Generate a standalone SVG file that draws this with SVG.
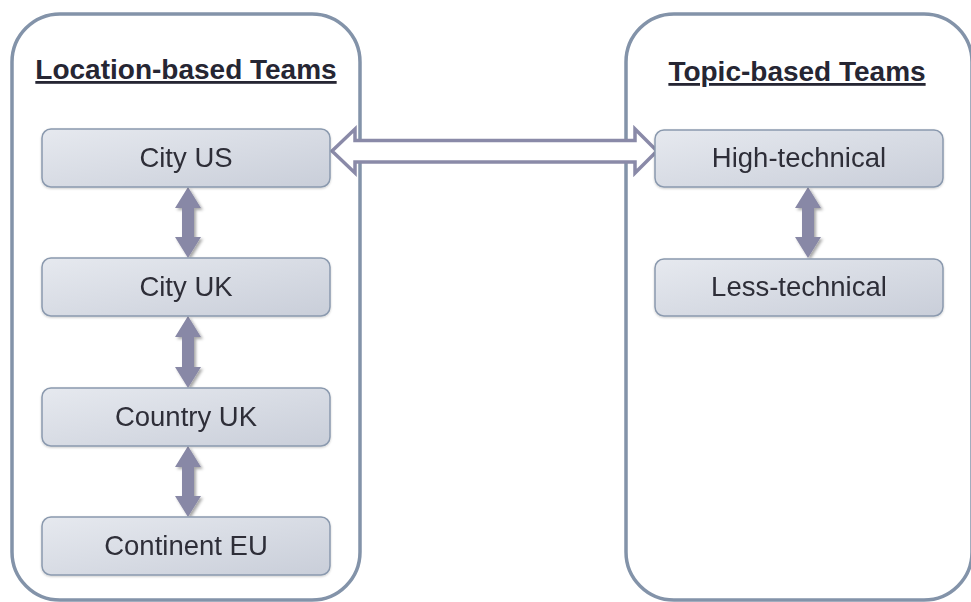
<svg xmlns="http://www.w3.org/2000/svg" width="971" height="602" viewBox="0 0 971 602">
<defs>
<linearGradient id="ng" x1="0" y1="0" x2="1" y2="1">
<stop offset="0" stop-color="#e6e9ef"/>
<stop offset="1" stop-color="#c9ced9"/>
</linearGradient>
<filter id="sh" x="-50%" y="-20%" width="200%" height="140%">
<feDropShadow dx="2" dy="2" stdDeviation="1.5" flood-color="#000" flood-opacity="0.35"/>
</filter>
<filter id="nsh" x="-5%" y="-10%" width="110%" height="130%">
<feDropShadow dx="0" dy="1" stdDeviation="1" flood-color="#000" flood-opacity="0.2"/>
</filter>
</defs>
<style>
.cont{fill:#fff;stroke:#8393a9;stroke-width:3.5}
.node{fill:url(#ng);stroke:#8a99ae;stroke-width:1.5}
.lbl{font-family:"Liberation Sans",Arial,sans-serif;font-size:27.5px;fill:#2e2e38;text-anchor:middle}
.ttl{font-family:"Liberation Sans",Arial,sans-serif;font-size:28px;font-weight:bold;fill:#262633;text-anchor:middle;text-decoration:underline}
.va{fill:#8888a6}
.ha{fill:#fff;stroke:#8a8aa8;stroke-width:3.5;stroke-linejoin:miter}
</style>
<g id="location-container">
<rect class="cont" x="12" y="14" width="348" height="586" rx="48"/>
<text class="ttl" x="186" y="79">Location-based Teams</text>
</g>
<g id="topic-container">
<rect class="cont" x="626" y="14" width="346" height="586" rx="48"/>
<text class="ttl" x="797" y="81">Topic-based Teams</text>
</g>
<g id="connectors">
<path class="ha" d="M332,151 L355,129 L355,140.5 L635,140.5 L635,129 L657,151 L635,173 L635,162 L355,162 L355,173 Z"/>
<g filter="url(#sh)">
<path class="va" d="M188,187 L201,208 L194,208 L194,237 L201,237 L188,258 L175,237 L182,237 L182,208 L175,208 Z"/>
<path class="va" d="M188,316 L201,337 L194,337 L194,367 L201,367 L188,388 L175,367 L182,367 L182,337 L175,337 Z"/>
<path class="va" d="M188,446 L201,467 L194,467 L194,496 L201,496 L188,517 L175,496 L182,496 L182,467 L175,467 Z"/>
<path class="va" d="M808,187 L821,208 L814,208 L814,237 L821,237 L808,258 L795,237 L802,237 L802,208 L795,208 Z"/>
</g>
</g>
<g id="city-us" filter="url(#nsh)">
<rect class="node" x="42" y="129" width="288" height="58" rx="9"/>
<text class="lbl" x="186" y="167">City US</text>
</g>
<g id="city-uk" filter="url(#nsh)">
<rect class="node" x="42" y="258" width="288" height="58" rx="9"/>
<text class="lbl" x="186" y="296">City UK</text>
</g>
<g id="country-uk" filter="url(#nsh)">
<rect class="node" x="42" y="388" width="288" height="58" rx="9"/>
<text class="lbl" x="186" y="426">Country UK</text>
</g>
<g id="continent-eu" filter="url(#nsh)">
<rect class="node" x="42" y="517" width="288" height="58" rx="9"/>
<text class="lbl" x="186" y="555">Continent EU</text>
</g>
<g id="high-technical" filter="url(#nsh)">
<rect class="node" x="655" y="130" width="288" height="57" rx="9"/>
<text class="lbl" x="799" y="167">High-technical</text>
</g>
<g id="less-technical" filter="url(#nsh)">
<rect class="node" x="655" y="259" width="288" height="57" rx="9"/>
<text class="lbl" x="799" y="296">Less-technical</text>
</g>
</svg>
